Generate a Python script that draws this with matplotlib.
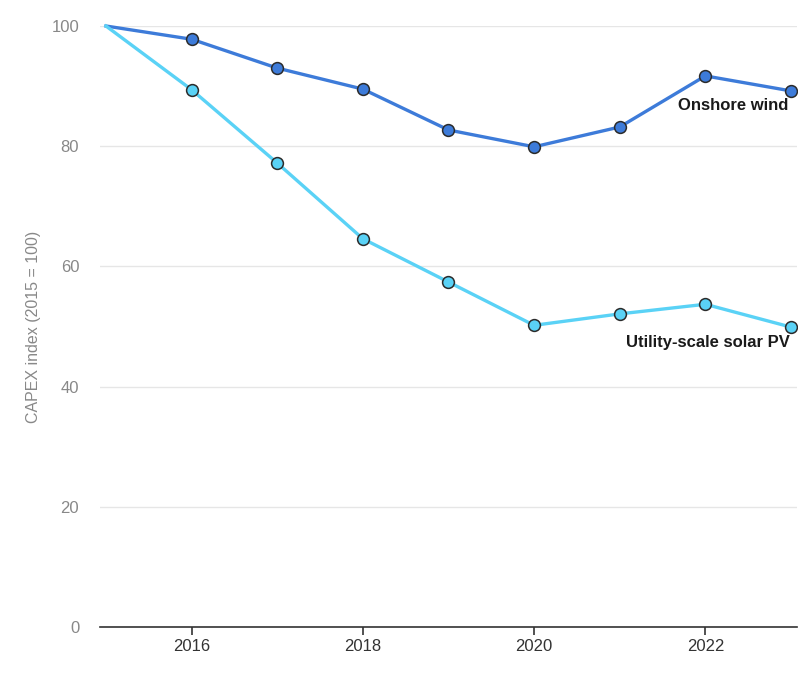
import matplotlib.pyplot as plt

plt.rcParams['font.family'] = ['Liberation Sans', 'DejaVu Sans']

years = [2015, 2016, 2017, 2018, 2019, 2020, 2021, 2022, 2023]
wind = [100, 97.8, 93.0, 89.5, 82.7, 79.9, 83.2, 91.7, 89.2]
solar = [100, 89.4, 77.2, 64.6, 57.4, 50.2, 52.1, 53.7, 49.9]

wind_color = '#3d7bd9'
solar_color = '#5ad2f6'

fig = plt.figure(figsize=(8.07, 6.81), dpi=100)
ax = fig.add_axes([0.1239, 0.0793, 0.8637, 0.8825])

ax.plot(years[1:], wind[1:], 'o', ms=8.5, mfc=wind_color, mec='#2b2b2b', mew=1.1, zorder=4)
ax.plot(years, wind, '-', color=wind_color, lw=2.4, zorder=3, clip_on=False)
ax.plot(years[1:], solar[1:], 'o', ms=8.5, mfc=solar_color, mec='#2b2b2b', mew=1.1, zorder=4)
ax.plot(years, solar, '-', color=solar_color, lw=2.4, zorder=3, clip_on=False)

ax.text(2022.97, 86.8, 'Onshore wind', ha='right', va='center',
        fontsize=12, fontweight='bold', color='#1a1a1a')
ax.text(2022.99, 47.3, 'Utility-scale solar PV', ha='right', va='center',
        fontsize=12, fontweight='bold', color='#1a1a1a')

ax.set_xlim(2014.93, 2023.07)
ax.set_ylim(0, 100)
ax.set_xticks([2016, 2018, 2020, 2022])
ax.set_yticks([0, 20, 40, 60, 80, 100])
ax.grid(axis='y', color='#e6e6e6', lw=1)
ax.set_axisbelow(True)
for side in ['top', 'right', 'left']:
    ax.spines[side].set_visible(False)
ax.spines['bottom'].set_color('#333333')
ax.spines['bottom'].set_linewidth(1.2)
ax.tick_params(axis='x', colors='#333333', labelsize=12, length=6, width=1.2, pad=3)
ax.tick_params(axis='y', colors='#888888', labelsize=12, length=0, pad=15)
ax.set_ylabel('CAPEX index (2015 = 100)', color='#888888', fontsize=11.5)
ax.yaxis.set_label_coords(-0.085, 0.5)

fig.savefig('out.png', dpi=100)
